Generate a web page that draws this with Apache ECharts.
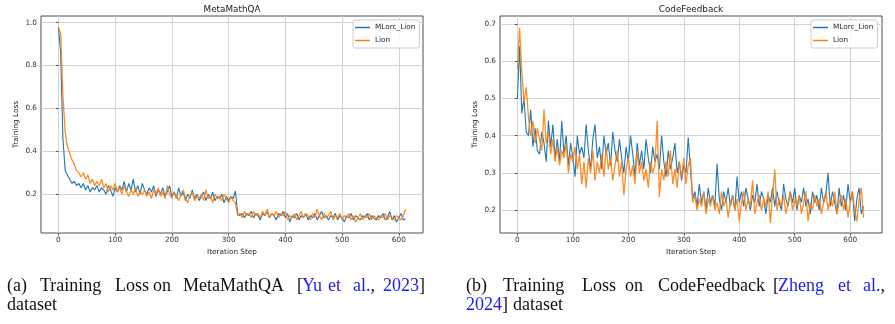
<!DOCTYPE html>
<html>
<head>
<meta charset="utf-8">
<title>Training Loss</title>
<script src="https://cdn.jsdelivr.net/npm/echarts@6/dist/echarts.min.js"></script>
<style>
  html, body { margin: 0; padding: 0; background: #fff; }
  #main { width: 895px; height: 324px; }
</style>
</head>
<body>
<div id="main"></div>
<script>
// 数据：每隔 STEP 步读一个点
var STEP = 4;
var seriesNames = ["MLorc_Lion", "Lion"];
var xTicks = [0, 100, 200, 300, 400, 500, 600];
var mathYTicks = [0.2, 0.4, 0.6, 0.8, 1.0];
var codeYTicks = [0.2, 0.3, 0.4, 0.5, 0.6, 0.7];

// MetaMathQA
var mathMlorc = [
  0.98, 0.86, 0.46, 0.31, 0.29, 0.27, 0.25, 0.26, 0.24, 0.25,
  0.23, 0.25, 0.22, 0.24, 0.21, 0.23, 0.22, 0.24, 0.21, 0.23,
  0.22, 0.20, 0.24, 0.22, 0.19, 0.23, 0.21, 0.24, 0.22, 0.26,
  0.21, 0.25, 0.22, 0.27, 0.21, 0.24, 0.20, 0.25, 0.22, 0.20,
  0.23, 0.21, 0.24, 0.19, 0.22, 0.20, 0.23, 0.19, 0.21, 0.24,
  0.19, 0.21, 0.18, 0.23, 0.19, 0.21, 0.17, 0.20, 0.18, 0.22,
  0.18, 0.20, 0.17, 0.19, 0.21, 0.17, 0.20, 0.18, 0.21, 0.17,
  0.19, 0.18, 0.20, 0.16, 0.19, 0.17, 0.19, 0.18, 0.215, 0.11,
  0.10, 0.11, 0.09, 0.11, 0.10, 0.12, 0.09, 0.11, 0.10, 0.08,
  0.11, 0.10, 0.12, 0.09, 0.11, 0.10, 0.08, 0.11, 0.10, 0.12,
  0.09, 0.11, 0.07, 0.10, 0.09, 0.11, 0.08, 0.10, 0.09, 0.11,
  0.08, 0.10, 0.09, 0.11, 0.08, 0.10, 0.12, 0.09, 0.10, 0.08,
  0.10, 0.09, 0.11, 0.08, 0.10, 0.09, 0.07, 0.10, 0.09, 0.11,
  0.08, 0.10, 0.09, 0.08, 0.10, 0.09, 0.11, 0.08, 0.10, 0.09,
  0.08, 0.10, 0.09, 0.11, 0.08, 0.09, 0.12, 0.08, 0.10, 0.07,
  0.09, 0.11, 0.08, 0.085
];
var mathLion = [
  0.98, 0.95, 0.66, 0.49, 0.42, 0.39, 0.36, 0.34, 0.31, 0.30,
  0.28, 0.30, 0.27, 0.29, 0.25, 0.27, 0.24, 0.26, 0.24, 0.27,
  0.23, 0.25, 0.21, 0.24, 0.22, 0.25, 0.21, 0.23, 0.20, 0.24,
  0.21, 0.19, 0.22, 0.20, 0.23, 0.19, 0.21, 0.20, 0.22, 0.19,
  0.21, 0.18, 0.22, 0.20, 0.23, 0.19, 0.21, 0.18, 0.24, 0.20,
  0.18, 0.21, 0.19, 0.17, 0.20, 0.22, 0.18, 0.16, 0.19, 0.21,
  0.17, 0.19, 0.18, 0.20, 0.17, 0.22, 0.18, 0.19, 0.16, 0.20,
  0.18, 0.19, 0.17, 0.20, 0.18, 0.16, 0.19, 0.17, 0.16, 0.10,
  0.11, 0.09, 0.12, 0.10, 0.11, 0.09, 0.12, 0.10, 0.11, 0.09,
  0.12, 0.10, 0.13, 0.09, 0.11, 0.10, 0.12, 0.09, 0.11, 0.10,
  0.12, 0.08, 0.10, 0.09, 0.11, 0.08, 0.10, 0.12, 0.09, 0.11,
  0.10, 0.08, 0.11, 0.09, 0.13, 0.10, 0.08, 0.11, 0.09, 0.10,
  0.12, 0.08, 0.10, 0.09, 0.11, 0.08, 0.10, 0.09, 0.11, 0.08,
  0.10, 0.07, 0.09, 0.11, 0.08, 0.10, 0.09, 0.11, 0.08, 0.10,
  0.09, 0.08, 0.10, 0.09, 0.11, 0.08, 0.10, 0.09, 0.08, 0.10,
  0.09, 0.08, 0.10, 0.13
];

// CodeFeedback
var codeMlorc = [
  0.50, 0.64, 0.46, 0.50, 0.41, 0.40, 0.47, 0.37, 0.42, 0.36,
  0.35, 0.41, 0.38, 0.33, 0.44, 0.37, 0.43, 0.34, 0.39, 0.33,
  0.44, 0.35, 0.40, 0.32, 0.38, 0.34, 0.29, 0.40, 0.35, 0.37,
  0.34, 0.43, 0.36, 0.31, 0.39, 0.43, 0.34, 0.37, 0.31, 0.40,
  0.35, 0.38, 0.32, 0.41, 0.36, 0.33, 0.39, 0.34, 0.30, 0.37,
  0.33, 0.40, 0.35, 0.29, 0.38, 0.32, 0.36, 0.31, 0.39, 0.34,
  0.30, 0.37, 0.33, 0.35, 0.31, 0.40, 0.33, 0.29, 0.36, 0.31,
  0.34, 0.38, 0.30, 0.33, 0.28, 0.32, 0.30, 0.395, 0.31, 0.23,
  0.25, 0.21, 0.27, 0.22, 0.25, 0.20, 0.26, 0.22, 0.24, 0.21,
  0.325, 0.23, 0.20, 0.25, 0.22, 0.26, 0.21, 0.24, 0.20, 0.29,
  0.22, 0.25, 0.21, 0.26, 0.23, 0.20, 0.24, 0.22, 0.27, 0.21,
  0.25, 0.23, 0.19, 0.24, 0.22, 0.26, 0.21, 0.25, 0.22, 0.20,
  0.27, 0.23, 0.21, 0.25, 0.22, 0.26, 0.20, 0.24, 0.22, 0.26,
  0.21, 0.23, 0.19, 0.25, 0.22, 0.24, 0.20, 0.26, 0.22, 0.24,
  0.30, 0.21, 0.25, 0.22, 0.19, 0.26, 0.21, 0.24, 0.20, 0.27,
  0.22, 0.25, 0.17, 0.23, 0.26, 0.19, 0.21
];
var codeLion = [
  0.58, 0.69, 0.57, 0.49, 0.53, 0.45, 0.40, 0.44, 0.38, 0.42,
  0.39, 0.36, 0.47, 0.38, 0.41, 0.35, 0.39, 0.33, 0.37, 0.32,
  0.36, 0.34, 0.38, 0.30, 0.35, 0.33, 0.37, 0.31, 0.35, 0.27,
  0.33, 0.26, 0.34, 0.30, 0.36, 0.28, 0.33, 0.30, 0.35, 0.29,
  0.37, 0.31, 0.34, 0.28, 0.32, 0.36, 0.29, 0.33, 0.24, 0.31,
  0.34, 0.29, 0.32, 0.27, 0.36, 0.30, 0.33, 0.28, 0.31, 0.26,
  0.33, 0.30, 0.32, 0.44, 0.235, 0.31, 0.28, 0.33, 0.29, 0.36,
  0.27, 0.31, 0.26, 0.33, 0.29, 0.34, 0.27, 0.32, 0.34, 0.22,
  0.24, 0.20, 0.23, 0.21, 0.25, 0.19, 0.23, 0.21, 0.24, 0.20,
  0.22, 0.19, 0.25, 0.21, 0.23, 0.18, 0.22, 0.24, 0.20, 0.23,
  0.17, 0.22, 0.25, 0.20, 0.23, 0.21, 0.28, 0.19, 0.22, 0.24,
  0.20, 0.23, 0.21, 0.25, 0.165, 0.24, 0.31, 0.20, 0.23, 0.21,
  0.24, 0.19, 0.22, 0.25, 0.20, 0.23, 0.21, 0.24, 0.19, 0.22,
  0.25, 0.17, 0.22, 0.20, 0.24, 0.21, 0.23, 0.19, 0.22, 0.25,
  0.20, 0.23, 0.21, 0.25, 0.19, 0.22, 0.24, 0.20, 0.23, 0.18,
  0.22, 0.25, 0.20, 0.17, 0.23, 0.26, 0.18
];

(function() {
  var myChart = echarts.init(document.getElementById("main"), null, { renderer: "canvas" });

  var BLUE = "#1f77b4";
  var ORANGE = "#ff7f0e";
  var SANS = "DejaVu Sans";
  var SERIF = "Liberation Serif";
  var CITE = "#1c1cf0";

  function toPairs(arr) {
    return arr.map(function(v, i) { return [i * STEP, v]; });
  }

  // x 轴
  function makeX(gridIndex, min, max) {
    return {
      type: "value",
      gridIndex: gridIndex,
      min: min,
      max: max,
      name: "Iteration Step",
      nameLocation: "middle",
      nameGap: 15,
      nameTextStyle: { fontFamily: SANS, fontSize: 7.3, color: "#262626" },
      axisLine: { show: false },
      axisTick: { show: true, length: 2.5, customValues: xTicks, lineStyle: { color: "#4d4d4d" } },
      axisLabel: { customValues: xTicks, margin: 4, fontFamily: SANS, fontSize: 7.3, color: "#333" },
      splitLine: { show: true, lineStyle: { color: "#d2d2d2", width: 1 } }
    };
  }

  // y 轴
  function makeY(gridIndex, min, max, ticks) {
    return {
      type: "value",
      gridIndex: gridIndex,
      min: min,
      max: max,
      name: "Training Loss",
      nameLocation: "middle",
      nameGap: 21,
      nameTextStyle: { fontFamily: SANS, fontSize: 7.3, color: "#262626" },
      axisLine: { show: false },
      axisTick: { show: true, length: 2.5, customValues: ticks, lineStyle: { color: "#4d4d4d" } },
      axisLabel: {
        customValues: ticks,
        margin: 4,
        fontFamily: SANS,
        fontSize: 7.3,
        color: "#333",
        formatter: function(v) { return v.toFixed(1); }
      },
      splitLine: { show: true, lineStyle: { color: "#d2d2d2", width: 1 } }
    };
  }

  // 图例：只画线段，不要圆点
  function makeLegend(left) {
    return {
      data: seriesNames,
      orient: "vertical",
      left: left,
      top: 20,
      icon: "rect",
      itemWidth: 15,
      itemHeight: 1.5,
      itemGap: 4,
      padding: [3, 4, 3, 2],
      backgroundColor: "rgba(255,255,255,0.85)",
      borderColor: "#cccccc",
      borderWidth: 1,
      borderRadius: 2,
      textStyle: { fontFamily: SANS, fontSize: 7.3, color: "#262626", lineHeight: 9 }
    };
  }

  function makeLine(name, data, idx, color, width, opacity) {
    return {
      name: name,
      type: "line",
      xAxisIndex: idx,
      yAxisIndex: idx,
      data: toPairs(data),
      symbol: "none",
      color: color,
      lineStyle: { color: color, width: width, opacity: opacity },
      emphasis: { disabled: true }
    };
  }

  // 标题与图注文字
  function txt(x, y, text, opt) {
    opt = opt || {};
    return {
      type: "text",
      x: x,
      y: y,
      silent: true,
      style: {
        text: text,
        fill: opt.color || "#111",
        font: opt.font || ("18px '" + SERIF + "'"),
        textAlign: opt.align || "left",
        textVerticalAlign: "middle",
        align: opt.align || "left",
        verticalAlign: "middle",
        rich: opt.rich
      }
    };
  }

  var capFont = "18px '" + SERIF + "'";
  var rich = {
    b: { fill: CITE, color: CITE, font: capFont, fontFamily: SERIF, fontSize: 18 },
    k: { fill: "#111", color: "#111", font: capFont, fontFamily: SERIF, fontSize: 18 }
  };
  var L1 = 286.5, L2 = 305.5;

  var graphics = [
    txt(232, 9.5, "MetaMathQA", { font: "8.8px '" + SANS + "'", align: "center", color: "#222" }),
    txt(691, 9.5, "CodeFeedback", { font: "8.8px '" + SANS + "'", align: "center", color: "#222" }),
    // (a)
    txt(7, L1, "(a)"),
    txt(40, L1, "Training"),
    txt(115, L1, "Loss"),
    txt(153, L1, "on"),
    txt(183, L1, "MetaMathQA"),
    txt(297, L1, "["),
    txt(302, L1, "Yu", { color: CITE }),
    txt(328, L1, "et", { color: CITE }),
    txt(353, L1, "{b|al.}{k|,}", { rich: rich }),
    txt(383, L1, "{b|2023}{k|]}", { rich: rich }),
    txt(7, L2, "dataset"),
    // (b)
    txt(466, L1, "(b)"),
    txt(503, L1, "Training"),
    txt(582, L1, "Loss"),
    txt(625, L1, "on"),
    txt(658, L1, "CodeFeedback"),
    txt(773, L1, "["),
    txt(778, L1, "Zheng", { color: CITE }),
    txt(838, L1, "et", { color: CITE }),
    txt(863, L1, "{b|al.}{k|,}", { rich: rich }),
    txt(466, L2, "{b|2024}{k|]}", { rich: rich }),
    txt(513, L2, "dataset")
  ];

  var option = {
    animation: false,
    backgroundColor: "#ffffff",
    grid: [
      { left: 41, top: 16, width: 382, height: 217, show: true, borderColor: "#4d4d4d", borderWidth: 1, backgroundColor: "transparent" },
      { left: 500, top: 16, width: 382, height: 217, show: true, borderColor: "#4d4d4d", borderWidth: 1, backgroundColor: "transparent" }
    ],
    xAxis: [makeX(0, -30.6, 642.6), makeX(1, -31.3, 657.3)],
    yAxis: [makeY(0, 0.019, 1.031, mathYTicks), makeY(1, 0.1385, 0.7215, codeYTicks)],
    legend: [makeLegend(353), makeLegend(811)],
    series: [
      makeLine(seriesNames[0], mathMlorc, 0, BLUE, 1.1, 1),
      makeLine(seriesNames[1], mathLion, 0, ORANGE, 1.3, 0.9),
      makeLine(seriesNames[0], codeMlorc, 1, BLUE, 1.1, 1),
      makeLine(seriesNames[1], codeLion, 1, ORANGE, 1.3, 0.9)
    ],
    graphic: graphics
  };

  myChart.setOption(option);
  window.addEventListener("resize", function() {
    myChart.resize();
  });
})();
</script>
</body>
</html>
